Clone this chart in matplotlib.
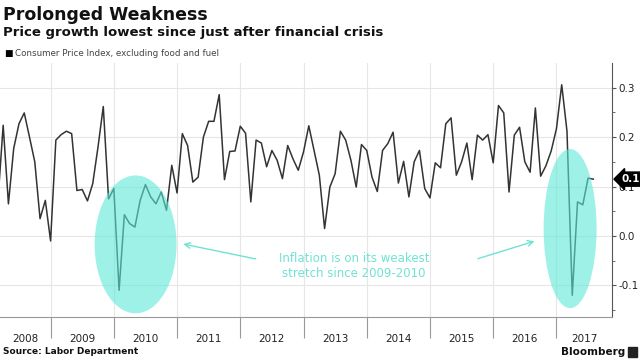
import matplotlib.pyplot as plt
import matplotlib.transforms as mtransforms
from matplotlib.patches import Ellipse, Rectangle

# monthly core CPI change, Feb 2008 .. Jul 2017
start_year = 2008
start_month = 2
cpi = [0.070, 0.224, 0.065, 0.177, 0.227, 0.249, 0.200, 0.150, 0.035, 0.072,
       -0.010, 0.194, 0.205, 0.212, 0.207, 0.092, 0.094, 0.071, 0.106, 0.180,
       0.262, 0.075, 0.096, -0.110, 0.043, 0.025, 0.018, 0.072, 0.104, 0.079,
       0.065, 0.089, 0.052, 0.143, 0.087, 0.207, 0.183, 0.109, 0.119, 0.200,
       0.232, 0.232, 0.286, 0.114, 0.171, 0.172, 0.222, 0.208, 0.069, 0.194,
       0.188, 0.140, 0.173, 0.153, 0.116, 0.183, 0.156, 0.133, 0.170, 0.223,
       0.173, 0.123, 0.015, 0.099, 0.126, 0.212, 0.194, 0.153, 0.099, 0.185,
       0.173, 0.119, 0.090, 0.173, 0.187, 0.210, 0.107, 0.151, 0.079, 0.150,
       0.173, 0.096, 0.077, 0.148, 0.138, 0.227, 0.239, 0.123, 0.150, 0.188,
       0.114, 0.204, 0.194, 0.205, 0.148, 0.264, 0.249, 0.089, 0.204, 0.220,
       0.150, 0.129, 0.259, 0.121, 0.142, 0.172, 0.217, 0.306, 0.212, -0.120,
       0.069, 0.063, 0.117, 0.115]
years = list(range(2008, 2018))
yticks = [-0.1, 0.0, 0.1, 0.2, 0.3]

# month-end positions
dates = [start_year + (start_month + i) / 12 for i in range(len(cpi))]

xmin, xmax = 2008.2, 2017.876
teal = '#5ce8d6'
teal_txt = '#6fe3d3'

fig = plt.figure(figsize=(6.4, 3.6), dpi=100)
ax = fig.add_axes([0, 0.1194, 0.956, 0.7056])

ax.plot(dates, cpi, color='#333333', lw=1.1, zorder=3)
ax.set_xlim(xmin, xmax)
ax.set_ylim(-0.164, 0.35)

# grid
for y in yticks:
    ax.axhline(y, color='#e6e6e6', lw=0.8, zorder=0)
for yr in years[1:]:
    ax.axvline(yr, color='#e6e6e6', lw=0.8, zorder=0)

for s in ['left', 'top']:
    ax.spines[s].set_visible(False)
ax.spines['right'].set_color('#555555')
ax.spines['bottom'].set_color('#999999')
ax.spines['right'].set_linewidth(0.8)
ax.spines['bottom'].set_linewidth(0.8)

ax.yaxis.tick_right()
ax.set_yticks(yticks)
ax.set_yticklabels(['%.1f' % v for v in yticks])
ax.set_yticks([-0.15, -0.05, 0.05, 0.15, 0.25], minor=True)
ax.tick_params(axis='y', which='major', length=3, width=0.8, color='#555555',
               labelsize=7.5, pad=2, labelcolor='#222222')
ax.tick_params(axis='y', which='minor', length=2, width=0.6, color='#555555')

# year labels centred in the visible part of each year, separators at boundaries
centres = [(max(yr, xmin) + min(yr + 1, xmax)) / 2 for yr in years]
ax.set_xticks(centres)
ax.set_xticklabels([str(yr) for yr in years])
ax.set_xticks(years[1:], minor=True)
ax.tick_params(axis='x', which='major', length=0, labelsize=7.5, pad=12,
               labelcolor='#222222')
ax.tick_params(axis='x', which='minor', length=15, width=0.8, color='#999999')

# highlight ellipses
ax.add_patch(Ellipse((2010.344, -0.017), 1.295, 0.279, color=teal, alpha=0.6,
                     lw=0, zorder=4))
ax.add_patch(Ellipse((2017.216, 0.015), 0.837, 0.322, color=teal, alpha=0.6,
                     lw=0, zorder=4))

ax.text(2013.8, -0.061, 'Inflation is on its weakest\nstretch since 2009-2010',
        color=teal_txt, fontsize=8.5, ha='center', va='center', linespacing=1.15)
ax.annotate('', xy=(2011.055, -0.0152), xytext=(2012.287, -0.0476),
            arrowprops=dict(arrowstyle='->', color=teal_txt, lw=1.0))
ax.annotate('', xy=(2016.695, -0.009), xytext=(2015.716, -0.0476),
            arrowprops=dict(arrowstyle='->', color=teal_txt, lw=1.0))

# last value tag
tr = mtransforms.blended_transform_factory(ax.transAxes, ax.transData)
ax.text(1.016, cpi[-1], '%.1f' % cpi[-1], transform=tr, color='white',
        fontsize=7.5, fontweight='bold', ha='left', va='center', zorder=6,
        bbox=dict(boxstyle='larrow,pad=0.2', fc='black', ec='black'))

# titles
fig.text(0.005, 1 - 20 / 360, 'Prolonged Weakness', fontsize=12.5, fontweight='bold',
         va='baseline', color='#111111')
fig.text(0.005, 1 - 36 / 360, 'Price growth lowest since just after financial crisis',
         fontsize=9.5, fontweight='bold', va='baseline', color='#111111')
fig.text(0.006, 1 - 56 / 360, '\u25a0', fontsize=6.5, va='baseline', color='black')
fig.text(0.024, 1 - 56 / 360, 'Consumer Price Index, excluding food and fuel',
         fontsize=6.3, va='baseline', color='#444444')

fig.text(0.005, 1 - 352 / 360, 'Source: Labor Department', fontsize=6.5,
         fontweight='bold', va='center', color='#111111')
fig.text(0.977, 1 - 352 / 360, 'Bloomberg', fontsize=7.5, fontweight='bold',
         va='center', ha='right', color='#111111')
fig.patches.append(Rectangle((0.981, 1 - 357 / 360), 0.015, 0.027,
                             transform=fig.transFigure, color='#222222'))

fig.savefig('out.png', dpi=100)
